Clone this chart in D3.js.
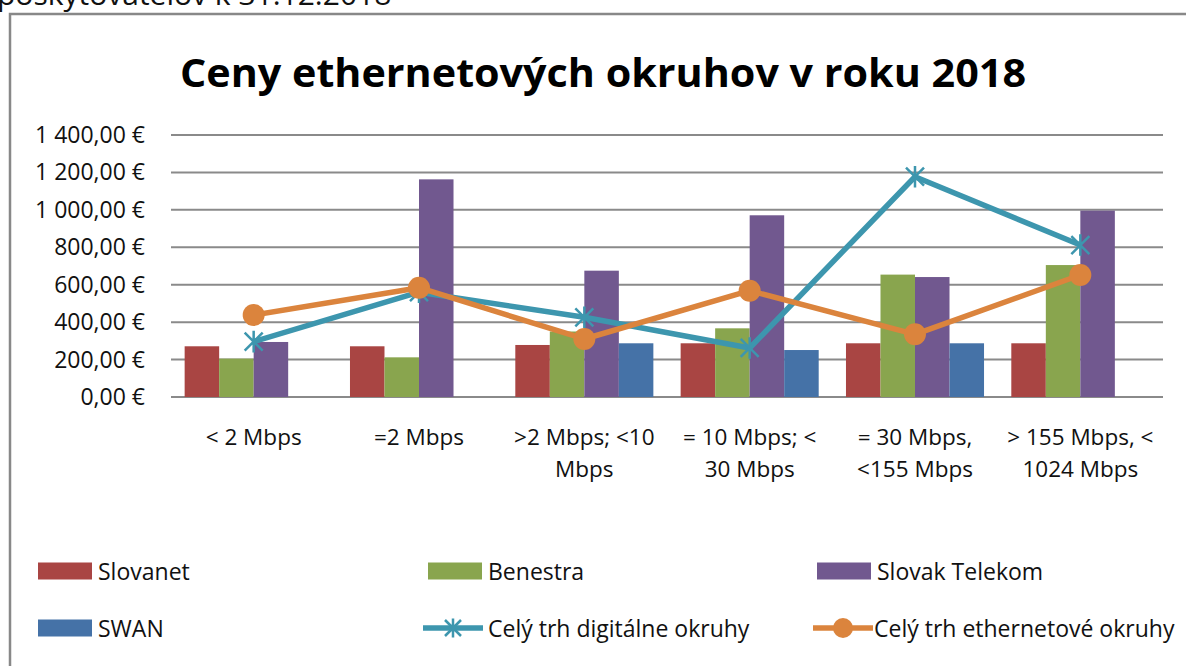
<!DOCTYPE html>
<html>
<head>
<meta charset="utf-8">
<script src="https://cdn.jsdelivr.net/npm/d3@7"></script>
<style>
  body { margin: 0; background: #fff; }
  svg { display: block; font-family: 'Open Sans', sans-serif; }
</style>
</head>
<body>
<svg id="chart" width="1186" height="666"></svg>
<script>
// categories (tick labels, split over lines like in the source)
const categories = ['< 2 Mbps', '=2 Mbps', '>2 Mbps; <10 Mbps', '= 10 Mbps; < 30 Mbps', '= 30 Mbps, <155 Mbps', '> 155 Mbps, < 1024 Mbps'];
const tickLines = [
  ['< 2 Mbps'],
  ['=2 Mbps'],
  ['>2 Mbps; <10', 'Mbps'],
  ['= 10 Mbps; <', '30 Mbps'],
  ['= 30 Mbps,', '<155 Mbps'],
  ['> 155 Mbps, <', '1024 Mbps']
];
const yTicks = [0, 200, 400, 600, 800, 1000, 1200, 1400];

// bar series
const slovanet = [271, 271, 278, 287, 287, 287];
const benestra = [205, 212, 350, 367, 654, 705];
const slovakTelekom = [294, 1163, 675, 971, 641, 996];
const swan = [null, null, 287, 251, 287, null];

// line series
const digitalne = [296, 560, 426, 262, 1177, 812];
const ethernetove = [438, 584, 310, 568, 335, 652];

const barSeries = [
  { name: 'Slovanet', values: slovanet, color: '#a94543' },
  { name: 'Benestra', values: benestra, color: '#89a54e' },
  { name: 'Slovak Telekom', values: slovakTelekom, color: '#71588f' },
  { name: 'SWAN', values: swan, color: '#4572a7' }
];

const svg = d3.select('#chart');
const fmt = v => d3.format(',.2f')(v).replace(/,/g, ' ').replace('.', ',') + ' €';

// line of page text above the chart frame, cut by the top edge as in the source
svg.append('text')
  .attr('x', -3).attr('y', 5)
  .attr('font-size', 30)
  .attr('fill', '#111')
  .text('poskytovateľov k 31.12.2018');

// frame
svg.append('rect')
  .attr('x', 10).attr('y', 14)
  .attr('width', 1200).attr('height', 700)
  .attr('fill', '#fff')
  .attr('stroke', '#888')
  .attr('stroke-width', 2.5);

svg.append('text')
  .attr('x', 603).attr('y', 87)
  .attr('text-anchor', 'middle')
  .attr('font-size', 40)
  .attr('font-weight', 'bold')
  .attr('textLength', 846)
  .attr('lengthAdjust', 'spacingAndGlyphs')
  .text('Ceny ethernetových okruhov v roku 2018');

const plotLeft = 171, plotRight = 1163, plotTop = 135, plotBottom = 397;

const y = d3.scaleLinear().domain([0, 1400]).range([plotBottom, plotTop]);
const x0 = d3.scaleBand().domain(categories).range([plotLeft, plotRight])
  .paddingInner(0.165).paddingOuter(0.0825);
const x1 = d3.scaleBand().domain(barSeries.map(s => s.name)).range([0, x0.bandwidth()]);

// gridlines
svg.append('g')
  .selectAll('line')
  .data(yTicks)
  .join('line')
  .attr('x1', plotLeft).attr('x2', plotRight)
  .attr('y1', d => y(d)).attr('y2', d => y(d))
  .attr('stroke', '#8a8a8a')
  .attr('stroke-width', 2);

// y axis labels
svg.append('g')
  .selectAll('text')
  .data(yTicks)
  .join('text')
  .attr('x', 145)
  .attr('y', d => y(d) + 8)
  .attr('text-anchor', 'end')
  .attr('font-size', 23)
  .attr('fill', '#111')
  .text(fmt);

// x axis labels
const xl = svg.append('g')
  .selectAll('text')
  .data(categories)
  .join('text')
  .attr('text-anchor', 'middle')
  .attr('font-size', 22.5)
  .attr('fill', '#111');
xl.selectAll('tspan')
  .data((d, i) => tickLines[i].map(t => ({ t, c: d })))
  .join('tspan')
  .attr('x', d => x0(d.c) + x0.bandwidth() / 2)
  .attr('y', (d, i) => 445 + i * 32)
  .text(d => d.t);

// bars
svg.append('g')
  .selectAll('g')
  .data(barSeries)
  .join('g')
  .attr('fill', d => d.color)
  .selectAll('rect')
  .data(s => s.values.map((v, i) => ({ v, c: categories[i], s: s.name })).filter(d => d.v != null))
  .join('rect')
  .attr('x', d => x0(d.c) + x1(d.s))
  .attr('y', d => y(d.v))
  .attr('width', x1.bandwidth())
  .attr('height', d => y(0) - y(d.v));

const cx = c => x0(c) + x0.bandwidth() / 2;

function star(g, size, color) {
  const h = size / 2;
  g.append('path')
    .attr('d', `M${-h},${-h}L${h},${h}M${-h},${h}L${h},${-h}M0,${-h * 1.2}L0,${h * 1.2}`)
    .attr('stroke', color)
    .attr('stroke-width', 2.5)
    .attr('fill', 'none');
}

const lineGen = d3.line().x(d => cx(d.c)).y(d => y(d.v));

// digital circuits line
const digData = digitalne.map((v, i) => ({ v, c: categories[i] }));
svg.append('path')
  .datum(digData)
  .attr('d', lineGen)
  .attr('fill', 'none')
  .attr('stroke', '#3d96ae')
  .attr('stroke-width', 5.5)
  .attr('stroke-linejoin', 'round');
svg.append('g')
  .selectAll('g')
  .data(digData)
  .join('g')
  .attr('transform', d => `translate(${cx(d.c)},${y(d.v)})`)
  .each(function () { star(d3.select(this), 18, '#3d96ae'); });

// ethernet circuits line
const ethData = ethernetove.map((v, i) => ({ v, c: categories[i] }));
svg.append('path')
  .datum(ethData)
  .attr('d', lineGen)
  .attr('fill', 'none')
  .attr('stroke', '#db843d')
  .attr('stroke-width', 5.5)
  .attr('stroke-linejoin', 'round');
svg.append('g')
  .selectAll('circle')
  .data(ethData)
  .join('circle')
  .attr('cx', d => cx(d.c))
  .attr('cy', d => y(d.v))
  .attr('r', 11)
  .attr('fill', '#db843d');

// legend
const legendItems = [
  { name: 'Slovanet', type: 'bar', color: '#a94543', x: 38, y: 571 },
  { name: 'Benestra', type: 'bar', color: '#89a54e', x: 428, y: 571 },
  { name: 'Slovak Telekom', type: 'bar', color: '#71588f', x: 817, y: 571 },
  { name: 'SWAN', type: 'bar', color: '#4572a7', x: 38, y: 628 },
  { name: 'Celý trh digitálne okruhy', type: 'star', color: '#3d96ae', x: 423, y: 628 },
  { name: 'Celý trh ethernetové okruhy', type: 'dot', color: '#db843d', x: 813, y: 628 }
];
const lg = svg.append('g')
  .selectAll('g')
  .data(legendItems)
  .join('g')
  .attr('transform', d => `translate(${d.x},${d.y})`);
lg.each(function (d) {
  const g = d3.select(this);
  if (d.type === 'bar') {
    g.append('rect').attr('x', 0).attr('y', -8.5).attr('width', 54).attr('height', 17).attr('fill', d.color);
    g.append('text').attr('x', 60).attr('y', 8.5).attr('font-size', 23).attr('fill', '#111').text(d.name);
  } else {
    g.append('line').attr('x1', 0).attr('x2', 60).attr('y1', 0).attr('y2', 0)
      .attr('stroke', d.color).attr('stroke-width', 5.5);
    if (d.type === 'star') {
      star(g.append('g').attr('transform', 'translate(30,0)'), 16, d.color);
    } else {
      g.append('circle').attr('cx', 30).attr('cy', 0).attr('r', 10).attr('fill', d.color);
    }
    g.append('text').attr('x', d.type === 'star' ? 65 : 61).attr('y', 8.5).attr('font-size', 23).attr('fill', '#111').text(d.name);
  }
});
</script>
</body>
</html>
